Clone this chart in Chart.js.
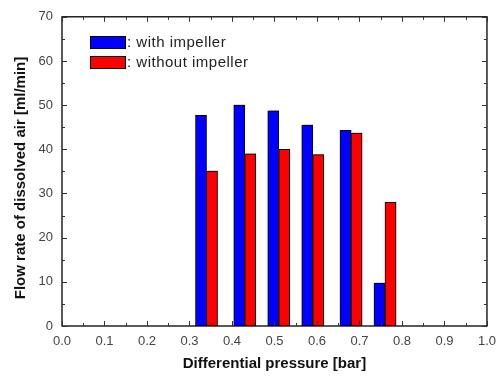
<!DOCTYPE html>
<html>
<head>
<meta charset="utf-8">
<script src="https://cdn.jsdelivr.net/npm/chart.js@4.4.1/dist/chart.umd.min.js"></script>
<style>
  html, body { margin: 0; padding: 0; background: #fff; }
  #wrap { width: 504px; height: 377px; }
</style>
</head>
<body>
<div id="wrap"><canvas id="grafica"></canvas></div>
<script>
// datos
var presiones = [0.34, 0.43, 0.51, 0.59, 0.68, 0.76];
var conImpulsor = [47.7, 50.0, 48.7, 45.5, 44.3, 9.7];
var sinImpulsor = [35.1, 39.0, 40.0, 38.8, 43.7, 28.0];
var etiquetas = [': with impeller', ': without impeller'];
var ticksX = [0, 0.1, 0.2, 0.3, 0.4, 0.5, 0.6, 0.7, 0.8, 0.9, 1.0];
var ticksY = [0, 10, 20, 30, 40, 50, 60, 70];
var tituloY = 'Flow rate of dissolved air [ml/min]';

function puntos(valores) {
    return presiones.map(function (p, i) { return { x: p, y: valores[i] }; });
}

// marco con marcas hacia adentro, en los cuatro lados
var marco = {
    id: 'marco',
    beforeDatasetsDraw: function (chart) {
        var ctx = chart.ctx;
        ctx.save();
        ctx.shadowColor = 'rgba(0,0,0,0.35)';
        ctx.shadowOffsetX = 1.5;
        ctx.shadowOffsetY = -1;
        ctx.shadowBlur = 1;
    },
    afterDatasetsDraw: function (chart) {
        chart.ctx.restore();
    },
    afterDraw: function (chart) {
        var ctx = chart.ctx, a = chart.chartArea;
        var sx = chart.scales.x, sy = chart.scales.y;
        ctx.save();
        ctx.strokeStyle = '#000';
        ctx.lineWidth = 1.3;
        ctx.strokeRect(a.left, a.top, a.right - a.left, a.bottom - a.top);
        ctx.lineWidth = 1;
        ctx.strokeStyle = '#333';
        ctx.beginPath();
        for (var v = 0; v <= 1.0001; v += 0.05) {
            var px = Math.round(sx.getPixelForValue(v)) + 0.5;
            var mayor = Math.round(v * 100) % 10 === 0;
            var l = mayor ? 5 : 3;
            ctx.moveTo(px, a.bottom); ctx.lineTo(px, a.bottom - l);
            ctx.moveTo(px, a.top); ctx.lineTo(px, a.top + l);
        }
        for (var w = 0; w <= 70; w += 5) {
            var py = Math.round(sy.getPixelForValue(w)) + 0.5;
            var l2 = (w % 10 === 0) ? 5 : 3;
            ctx.moveTo(a.left, py); ctx.lineTo(a.left + l2, py);
            ctx.moveTo(a.right, py); ctx.lineTo(a.right - l2, py);
        }
        ctx.stroke();

        // titulo del eje y, un poco mas abajo que el centro
        ctx.save();
        ctx.translate(21, 178);
        ctx.rotate(-Math.PI / 2);
        ctx.font = 'bold 15px "Liberation Sans", Arial, sans-serif';
        ctx.fillStyle = '#111';
        ctx.textAlign = 'center';
        ctx.textBaseline = 'middle';
        ctx.fillText(tituloY, 0, 0);
        ctx.restore();

        // leyenda dentro del area
        var ds = chart.data.datasets;
        ctx.font = '15px "Liberation Sans", Arial, sans-serif';
        ctx.letterSpacing = '0.5px';
        ctx.textBaseline = 'middle';
        ctx.textAlign = 'left';
        for (var i = 0; i < ds.length; i++) {
            var y0 = 36 + i * 20;
            ctx.fillStyle = ds[i].backgroundColor;
            ctx.fillRect(90.5, y0 + 0.5, 35, 12);
            ctx.strokeStyle = '#000';
            ctx.strokeRect(90.5, y0 + 0.5, 35, 12);
            ctx.fillStyle = '#222';
            ctx.fillText(ds[i].label, 127, y0 + 6.5);
        }
        ctx.restore();
    }
};

var grafica = document.getElementById('grafica');
var ctxgrafica = new Chart(grafica, {
    type: 'bar',
    data: {
        datasets: [{
            label: etiquetas[0],
            data: puntos(conImpulsor),
            backgroundColor: '#0000ff',
            borderColor: '#000',
            borderWidth: 1,
            barThickness: 11
        }, {
            label: etiquetas[1],
            data: puntos(sinImpulsor),
            backgroundColor: '#ff0000',
            borderColor: '#000',
            borderWidth: 1,
            barThickness: 11
        }]
    },
    options: {
        responsive: true,
        maintainAspectRatio: false,
        animation: false,
        layout: { padding: { top: 14, right: 15, left: 0, bottom: 0 } },
        plugins: {
            legend: { display: false },
            tooltip: { enabled: false }
        },
        scales: {
            x: {
                type: 'linear',
                min: 0,
                max: 1,
                offset: false,
                afterFit: function (s) { s.height = 51; },
                afterBuildTicks: function (s) { s.ticks = ticksX.map(function (v) { return { value: v }; }); },
                grid: { display: false, drawTicks: false },
                border: { display: false },
                ticks: {
                    padding: 8,
                    color: '#444',
                    font: { family: '"Liberation Sans", Arial, sans-serif', size: 13 },
                    callback: function (v) { return v.toFixed(1); }
                },
                title: {
                    display: true,
                    text: 'Differential pressure [bar]',
                    color: '#111',
                    padding: { top: 0, bottom: 4 },
                    font: { family: '"Liberation Sans", Arial, sans-serif', size: 15, weight: 'bold' }
                }
            },
            y: {
                min: 0,
                max: 70,
                afterFit: function (s) { s.width = 62; },
                afterBuildTicks: function (s) { s.ticks = ticksY.map(function (v) { return { value: v }; }); },
                grid: { display: false, drawTicks: false },
                border: { display: false },
                ticks: {
                    padding: 9,
                    color: '#444',
                    font: { family: '"Liberation Sans", Arial, sans-serif', size: 13 }
                },
                title: { display: false }
            }
        }
    },
    plugins: [marco]
});
</script>
</body>
</html>
